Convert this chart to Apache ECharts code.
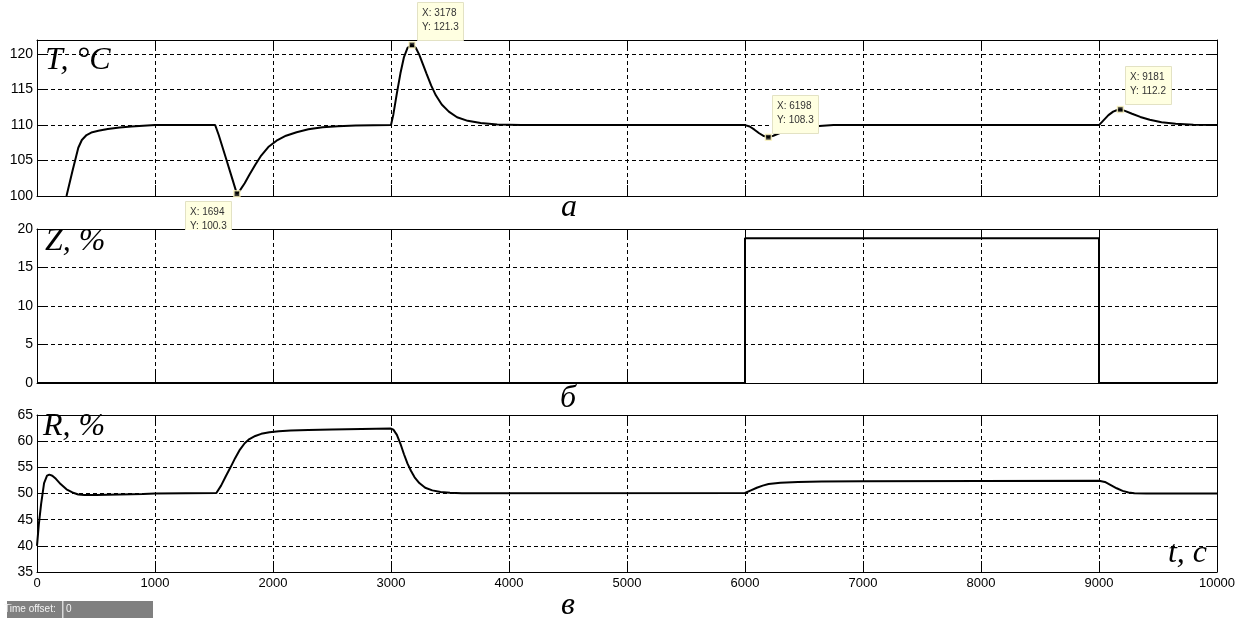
<!DOCTYPE html>
<html>
<head>
<meta charset="utf-8">
<script src="https://cdn.jsdelivr.net/npm/echarts@6/dist/echarts.min.js"></script>
<style>
html, body { margin: 0; padding: 0; background: #fff; }
#chart { width: 1245px; height: 619px; }
</style>
</head>
<body>
<div id="chart"></div>
<script>
// температура T, °C
const tempT = [250, 300, 350, 380, 420, 460, 520, 600, 700, 800, 1000, 1510, 1540, 1600, 1650, 1694, 1720, 1760, 1800, 1850, 1900, 1960, 2030, 2110, 2200, 2300, 2420, 2550, 2700, 3000, 3020, 3050, 3080, 3110, 3140, 3178, 3210, 3240, 3270, 3300, 3340, 3380, 3430, 3490, 3560, 3650, 3760, 3900, 4100, 6000, 6040, 6080, 6120, 6160, 6198, 6240, 6290, 6350, 6420, 6500, 6600, 6750, 9000, 9040, 9080, 9120, 9150, 9181, 9220, 9280, 9350, 9430, 9530, 9650, 9800, 10000];
const tempV = [100, 103.5, 106.8, 107.9, 108.6, 108.95, 109.2, 109.45, 109.65, 109.8, 110, 110, 108.6, 105.4, 102.7, 100.3, 100.8, 101.8, 103, 104.4, 105.7, 106.9, 107.8, 108.5, 109.0, 109.4, 109.7, 109.85, 109.95, 110, 111.5, 114.5, 117.3, 119.6, 120.9, 121.3, 120.9, 119.9, 118.6, 117.3, 115.6, 114.2, 112.9, 111.9, 111.1, 110.6, 110.3, 110.1, 110, 110, 109.8, 109.35, 108.85, 108.45, 108.3, 108.5, 108.85, 109.2, 109.5, 109.7, 109.85, 110, 110, 110.7, 111.4, 111.9, 112.1, 112.2, 112.0, 111.6, 111.15, 110.75, 110.4, 110.2, 110.05, 110];

// возмущение Z, %
const zT = [0, 6000, 6000, 9000, 9000, 10000];
const zV = [0, 0, 18.8, 18.8, 0, 0];

// регулирующее воздействие R, %
const rT = [0, 15, 35, 60, 85, 105, 130, 160, 200, 250, 300, 350, 400, 500, 700, 900, 1000, 1520, 1560, 1600, 1640, 1680, 1720, 1760, 1800, 1850, 1900, 1970, 2050, 2150, 2300, 2500, 3000, 3020, 3050, 3080, 3110, 3140, 3170, 3200, 3240, 3290, 3350, 3420, 3500, 3600, 6000, 6050, 6100, 6150, 6200, 6300, 6450, 6650, 7000, 8000, 9000, 9050, 9100, 9150, 9200, 9250, 9300, 9400, 10000];
const rV = [40, 44, 48, 52, 53.4, 53.6, 53.4, 52.8, 51.8, 50.8, 50.2, 49.8, 49.7, 49.7, 49.8, 49.9, 50, 50.1, 51.5, 53.3, 55, 56.8, 58.4, 59.6, 60.4, 61, 61.4, 61.7, 61.9, 62.05, 62.15, 62.25, 62.4, 62.2, 61.2, 59.5, 57.5, 55.7, 54.3, 53.1, 52, 51.1, 50.6, 50.3, 50.15, 50.05, 50.1, 50.6, 51.1, 51.5, 51.8, 52.05, 52.2, 52.3, 52.35, 52.4, 52.45, 52.2, 51.6, 51, 50.5, 50.2, 50.05, 50, 50];

// подписи точек (data tips)
const tipX = [1694, 3178, 6198, 9181];
const tipY = [100.3, 121.3, 108.3, 112.2];

// оси
const timeMin = 0, timeMax = 10000, timeStep = 1000;
const yRanges = [[100, 122], [0, 20], [35, 65]];
const yStep = 5;

const grids = [
  { left: 37, width: 1180, top: 40, height: 156 },
  { left: 37, width: 1180, top: 229, height: 154 },
  { left: 37, width: 1180, top: 415, height: 157 }
];

const tickFont = '"Liberation Sans Narrow", "Liberation Sans", Arial, sans-serif';
const serif = '"Liberation Serif", "DejaVu Serif", serif';
const dash = [4, 3];

const xAxes = [];
const yAxes = [];
for (let i = 0; i < 3; i++) {
  xAxes.push({
    type: 'value', gridIndex: i, min: timeMin, max: timeMax, interval: timeStep,
    position: 'bottom',
    axisLine: { show: true, onZero: false, lineStyle: { color: '#000', width: 1 } },
    axisTick: { show: true, inside: true, length: 11, lineStyle: { color: '#000' } },
    axisLabel: {
      show: i === 2, color: '#000', fontFamily: tickFont, fontSize: 13, margin: 5,
      formatter: (v) => String(v)
    },
    splitLine: { show: true, lineStyle: { color: '#000', type: dash, width: 1 } }
  });
  yAxes.push({
    type: 'value', gridIndex: i, min: yRanges[i][0], max: yRanges[i][1], interval: yStep,
    position: 'left',
    axisLine: { show: true, onZero: false, lineStyle: { color: '#000', width: 1 } },
    axisTick: { show: true, inside: true, length: 11, lineStyle: { color: '#000' } },
    axisLabel: { color: '#000', fontFamily: tickFont, fontSize: 14, margin: 4, showMaxLabel: i !== 0 },
    splitLine: { show: true, lineStyle: { color: '#000', type: dash, width: 1 } }
  });
}
// верхние и правые оси - только засечки
for (let i = 0; i < 3; i++) {
  xAxes.push({
    type: 'value', gridIndex: i, min: timeMin, max: timeMax, interval: timeStep,
    position: 'top',
    axisLine: { show: true, onZero: false, lineStyle: { color: '#000', width: 1 } },
    axisTick: { show: true, inside: true, length: 11, lineStyle: { color: '#000' } },
    axisLabel: { show: false },
    splitLine: { show: false }
  });
  yAxes.push({
    type: 'value', gridIndex: i, min: yRanges[i][0], max: yRanges[i][1], interval: yStep,
    position: 'right',
    axisLine: { show: true, onZero: false, lineStyle: { color: '#000', width: 1 } },
    axisTick: { show: true, inside: true, length: 11, lineStyle: { color: '#000' } },
    axisLabel: { show: false },
    splitLine: { show: false }
  });
}

const zip = (a, b) => a.map((v, i) => [v, b[i]]);
const lineStyle = { color: '#000', width: 2 };

const chart = echarts.init(document.getElementById('chart'));

const textEl = (txt, x, y, align) => ({
  type: 'text', x: x, y: y, z: 20,
  style: {
    text: txt, fill: '#000', font: 'italic 32px ' + serif,
    align: align || 'left', verticalAlign: 'middle'
  }
});

const option = {
  animation: false,
  backgroundColor: '#fff',
  grid: grids,
  xAxis: xAxes,
  yAxis: yAxes,
  series: [
    {
      type: 'line', xAxisIndex: 0, yAxisIndex: 0, data: zip(tempT, tempV),
      showSymbol: false, lineStyle: lineStyle, z: 3, silent: true
    },
    {
      type: 'line', xAxisIndex: 1, yAxisIndex: 1, data: zip(zT, zV),
      showSymbol: false, lineStyle: lineStyle, z: 3, silent: true
    },
    {
      type: 'line', xAxisIndex: 2, yAxisIndex: 2, data: zip(rT, rV),
      showSymbol: false, lineStyle: lineStyle, z: 3, silent: true
    },
    {
      type: 'scatter', xAxisIndex: 0, yAxisIndex: 0, data: zip(tipX, tipY),
      symbol: 'rect', symbolSize: 6, z: 6, silent: true,
      itemStyle: { color: '#000', borderColor: '#fff8c0', borderWidth: 1.5 }
    }
  ]
};
chart.setOption(option);

// подписи точек, положение считаем от данных
const tipOffsets = [[-52, 7], [5, -43], [4, -42], [5, -43]];
const tipW = 46, tipH = 38;
const graphics = [];
tipX.forEach((x, i) => {
  const p = chart.convertToPixel({ xAxisIndex: 0, yAxisIndex: 0 }, [x, tipY[i]]);
  const bx = Math.round(p[0] + tipOffsets[i][0]);
  const by = Math.round(p[1] + tipOffsets[i][1]);
  graphics.push({
    type: 'rect', z: 10,
    shape: { x: bx + 0.5, y: by + 0.5, width: tipW, height: tipH },
    style: { fill: '#ffffe1', stroke: '#e3e2c4', lineWidth: 1 }
  });
  graphics.push({
    type: 'text', z: 11, x: bx + 5, y: by + 4,
    style: {
      text: 'X: ' + x + '\nY: ' + tipY[i], fill: '#333',
      font: '10px "Liberation Sans", Arial, sans-serif', lineHeight: 14,
      align: 'left', verticalAlign: 'top'
    }
  });
  // подпись, заходящая на средний график, обрезается им
  const cut = grids[1].top + 1;
  if (by < cut && by + tipH > cut) {
    graphics.push({
      type: 'rect', z: 12,
      shape: { x: bx - 1, y: cut, width: tipW + 3, height: by + tipH - cut + 3 },
      style: { fill: '#fff' }
    });
  }
});

graphics.push(
  textEl('T, °C', 45, 61),
  textEl('Z, %', 45, 242),
  textEl('R, %', 43, 427),
  textEl('t, c', 1207, 554, 'right'),
  textEl('а', 569, 208, 'center'),
  textEl('б', 568, 399, 'center'),
  textEl('в', 568, 606, 'center')
);

// панель Time offset
graphics.push(
  { type: 'rect', z: 20, shape: { x: 7, y: 601, width: 146, height: 17 }, style: { fill: '#808080' } },
  { type: 'rect', z: 21, shape: { x: 62, y: 601, width: 1.5, height: 17 }, style: { fill: '#d8d8d8' } },
  {
    type: 'text', z: 22, x: 4, y: 609.5,
    style: { text: 'Time offset:', fill: '#f4f4f4', font: '10px "Liberation Sans", Arial, sans-serif', verticalAlign: 'middle' }
  },
  {
    type: 'text', z: 22, x: 66, y: 609.5,
    style: { text: '0', fill: '#f4f4f4', font: '10px "Liberation Sans", Arial, sans-serif', verticalAlign: 'middle' }
  }
);

chart.setOption({ graphic: graphics });
</script>
</body>
</html>
